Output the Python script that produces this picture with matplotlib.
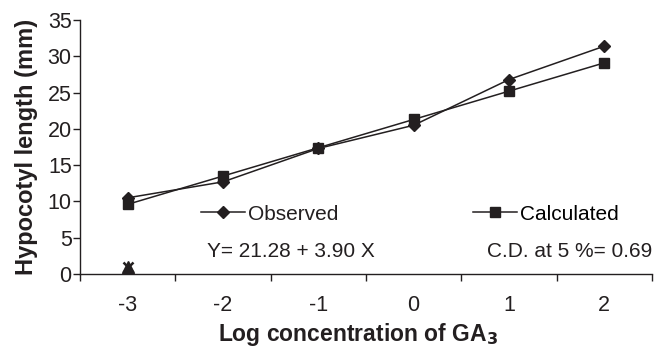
import numpy as np
import matplotlib
matplotlib.use("Agg")
import matplotlib.pyplot as plt
from matplotlib.ticker import FixedLocator, NullFormatter, FixedFormatter

# data
log_conc = ["-3", "-2", "-1", "0", "1", "2"]
observed = [10.5, 12.7, 17.3, 20.5, 26.8, 31.4]
calculated = [9.6, 13.5, 17.4, 21.3, 25.2, 29.1]
extra_x = ["-3"]
extra_y = [1.0]

plt.rcParams['font.family'] = ['Liberation Sans', 'DejaVu Sans']
ink = '#231f20'

fig = plt.figure(figsize=(6.65, 3.48), dpi=100)
ax = fig.add_axes([0.1203, 0.2126, 0.8602, 0.7299])

pos = np.arange(len(log_conc))
l1, = ax.plot(pos, observed, color=ink, lw=1.1, marker='D', ms=6, label='Observed')
l2, = ax.plot(pos, calculated, color=ink, lw=1.1, marker='s', ms=6.5, label='Calculated')

ex = [log_conc.index(v) for v in extra_x]
ax.plot(ex, extra_y, ls='none', marker='^', ms=8, color=ink)
ax.plot(ex, extra_y, ls='none', marker='x', ms=7, mew=1.8, color=ink)

ax.set_xlim(-0.5, len(log_conc) - 0.5)
ax.set_ylim(0, 35)
ax.set_yticks(np.arange(0, 36, 5))
ax.xaxis.set_major_locator(FixedLocator(np.arange(-0.5, len(log_conc), 1.0)))
ax.xaxis.set_major_formatter(NullFormatter())
ax.xaxis.set_minor_locator(FixedLocator(pos))
ax.xaxis.set_minor_formatter(FixedFormatter(log_conc))
ax.tick_params(axis='x', which='major', length=5, width=1, color=ink, direction='out')
ax.tick_params(axis='x', which='minor', length=0, pad=15, labelsize=15.5, labelcolor=ink)
ax.tick_params(axis='y', length=5, width=1, color=ink, labelsize=15.5, labelcolor=ink, pad=1)

for s in ['top', 'right']:
    ax.spines[s].set_visible(False)
for s in ['left', 'bottom']:
    ax.spines[s].set_color(ink)
    ax.spines[s].set_linewidth(1)

ax.set_ylabel('Hypocotyl length (mm)', fontsize=17, fontweight='bold', color=ink, labelpad=7)
xl = ax.set_xlabel('Log concentration of GA$_\\mathbf{3}$', fontsize=16.5, fontweight='bold', color=ink)
ax.xaxis.set_label_coords(0.486, -0.262)
xl.set_va('baseline')

leg1 = ax.legend(handles=[l1], loc='center left', bbox_to_anchor=(0.2115, 0.236), frameon=False,
                 borderpad=0, borderaxespad=0, handlelength=2.1, handletextpad=0.15,
                 prop={'size': 15})
ax.add_artist(leg1)
ax.legend(handles=[l2], loc='center left', bbox_to_anchor=(0.687, 0.236), frameon=False,
          borderpad=0, borderaxespad=0, handlelength=2.1, handletextpad=0.15,
          prop={'size': 15})
for t in leg1.get_texts():
    t.set_color(ink)

ax.text(0.222, 0.0906, 'Y= 21.28 + 3.90 X', transform=ax.transAxes, fontsize=15,
        color=ink, va='center', ha='left')
ax.text(1.0, 0.0906, 'C.D. at 5 %= 0.69', transform=ax.transAxes, fontsize=15,
        color=ink, va='center', ha='right')

fig.savefig('out.png', dpi=100)
